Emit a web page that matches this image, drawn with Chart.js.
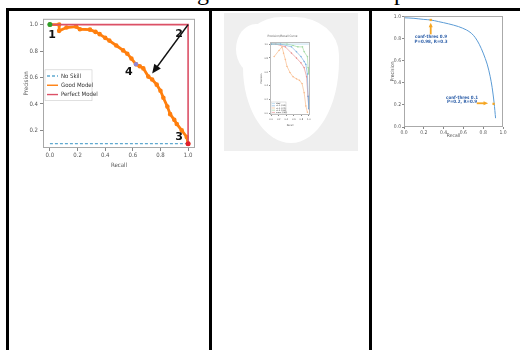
<!DOCTYPE html>
<html>
<head>
<meta charset="utf-8">
<script src="https://cdn.jsdelivr.net/npm/chart.js@4.4.1/dist/chart.umd.min.js"></script>
<style>
  body { margin: 0; width: 520px; height: 350px; position: relative; overflow: hidden; background: #fff; }
  .abs { position: absolute; }
  .bar { position: absolute; background: #000; }
  .cap { position: absolute; top: -20px; font: 24px/24px "Liberation Serif", "Times New Roman", serif; color: #000; }
  canvas { position: absolute; }
</style>
</head>
<body>
<div class="cap" style="left:197px">g</div>
<div class="cap" style="left:394px">p</div>

<div class="bar" style="left:6px; top:8px; right:0; height:3px"></div>
<div class="bar" style="left:6px; top:8px; width:3px; bottom:0"></div>
<div class="bar" style="left:209px; top:8px; width:3px; bottom:0"></div>
<div class="bar" style="left:369px; top:8px; width:3px; bottom:0"></div>

<!-- middle cell: grey photo background with a white blob -->
<div class="abs" style="left:224px; top:13px; width:134px; height:138px; background:#efefef"></div>
<div class="abs" style="left:243px; top:17px; width:96px; height:126px; background:#fff; border-radius:40% 45% 50% 50% / 25% 30% 65% 60%"></div>
<div class="abs" style="left:236px; top:24px; width:40px; height:50px; background:#fff; border-radius:60% 40% 40% 60%"></div>

<canvas id="prA" width="192" height="165" style="left:10px; top:12px"></canvas>
<canvas id="prB" width="65" height="97" style="left:255px; top:30px"></canvas>
<canvas id="prC" width="135" height="140" style="left:373px; top:12px"></canvas>

<script>
// ---- panel 1: no skill / good / perfect model ----
const skillRecall = [0, 1];
const skillPrecision = [0.1, 0.1];
const goodRecall = [0, 0.067, 0.067, 0.12, 0.19, 0.217, 0.29, 0.33, 0.36, 0.40, 0.43, 0.48, 0.53, 0.56, 0.59, 0.623, 0.65, 0.676, 0.712, 0.74, 0.773, 0.80, 0.821, 0.85, 0.87, 0.90, 0.918, 0.954, 0.99, 1.0];
const goodPrecision = [1.0, 1.0, 0.953, 0.978, 0.985, 0.965, 0.962, 0.945, 0.928, 0.90, 0.879, 0.842, 0.805, 0.78, 0.743, 0.70, 0.685, 0.669, 0.607, 0.585, 0.546, 0.50, 0.447, 0.38, 0.323, 0.28, 0.249, 0.2, 0.15, 0.1];
const perfectRecall = [0, 1, 1];
const perfectPrecision = [1, 1, 0.1];
const tickA = [0, 0.2, 0.4, 0.6, 0.8, 1.0];
const yTickA = [0.2, 0.4, 0.6, 0.8, 1.0];
const numLabels = ['1', '2', '3', '4'];
const numRecall = [0.015, 0.935, 0.935, 0.572];
const numPrecision = [0.919, 0.926, 0.148, 0.644];

// ---- panel 2: small multi-curve figure ----
const curvesB = ['ideal', 'cls 0 (0.91)', 'cls 1 (0.72)', 'cls 2 (0.94)', 'mean (0.86)'];
const colorsB = ['#9ccbea', '#6fa8dc', '#f8b27c', '#93d493', '#e48282'];
const recallB = [
  [0, 1],
  [0, 0.25, 0.54, 0.67, 0.79, 0.875, 0.92, 0.96, 0.98, 1.0],
  [0.08, 0.21, 0.29, 0.33, 0.375, 0.42, 0.5, 0.58, 0.67, 0.75, 0.82, 0.875, 0.92, 0.96],
  [0, 0.42, 0.58, 0.71, 0.83, 0.875, 0.96, 0.98, 1.0],
  [0, 0.125, 0.375, 0.54, 0.67, 0.79, 0.875, 0.94, 0.975, 1.0]
];
const precisionB = [
  [1, 1],
  [1, 1, 0.96, 0.89, 0.82, 0.75, 0.71, 0.57, 0.25, 0.07],
  [0.82, 0.91, 0.96, 0.87, 0.78, 0.68, 0.59, 0.53, 0.5, 0.48, 0.43, 0.3, 0.11, 0.02],
  [1, 1, 0.98, 0.96, 0.96, 0.89, 0.82, 0.66, 0.57],
  [1, 1, 0.96, 0.87, 0.8, 0.73, 0.66, 0.53, 0.25, 0.07]
];

// ---- panel 3: single curve with two thresholds ----
const curveRecall = [0, 0.1, 0.2, 0.27, 0.35, 0.45, 0.55, 0.63, 0.68, 0.72, 0.76, 0.8, 0.84, 0.87, 0.89, 0.91, 0.925];
const curvePrecision = [0.99, 0.985, 0.975, 0.97, 0.955, 0.935, 0.91, 0.88, 0.85, 0.81, 0.75, 0.67, 0.57, 0.46, 0.36, 0.22, 0.08];
const thresRecall = [0.27, 0.905];
const thresPrecision = [0.97, 0.21];
const thresText = [['conf-thres 0.9', 'P=0.98, R=0.3'], ['conf-thres 0.1', 'P=0.2, R=0.9']];
const thresTextRecall = [0.273, 0.586];
const thresTextPrecision = [0.797, 0.245];

const pts = (xs, ys) => xs.map((v, i) => ({x: v, y: ys[i]}));
const NARROW = '"Liberation Sans Narrow", "DejaVu Sans Condensed", sans-serif';

function drawArrow(ctx, x1, y1, x2, y2, color, w, head) {
    const a = Math.atan2(y2 - y1, x2 - x1);
    ctx.strokeStyle = color; ctx.fillStyle = color; ctx.lineWidth = w;
    ctx.beginPath();
    ctx.moveTo(x1, y1);
    ctx.lineTo(x2 - Math.cos(a) * head * 0.8, y2 - Math.sin(a) * head * 0.8);
    ctx.stroke();
    ctx.beginPath();
    ctx.moveTo(x2, y2);
    ctx.lineTo(x2 - head * Math.cos(a - 0.42), y2 - head * Math.sin(a - 0.42));
    ctx.lineTo(x2 - head * Math.cos(a + 0.42), y2 - head * Math.sin(a + 0.42));
    ctx.closePath();
    ctx.fill();
}

// frame, arrows, labels and an in-plot legend
const decor = {
    id: 'decor',
    afterDatasetsDraw(chart, args, o) {
        const {ctx, chartArea: ca, scales: {x, y}} = chart;
        ctx.save();
        ctx.strokeStyle = o.frame; ctx.lineWidth = 1;
        ctx.strokeRect(ca.left + 0.5, ca.top + 0.5, ca.right - ca.left - 1, ca.bottom - ca.top - 1);
        (o.arrows || []).forEach(r => drawArrow(ctx, x.getPixelForValue(r.x1), y.getPixelForValue(r.y1),
            x.getPixelForValue(r.x2), y.getPixelForValue(r.y2), r.color, r.width, r.head));
        (o.texts || []).forEach(t => {
            ctx.font = t.font; ctx.fillStyle = t.color;
            ctx.textAlign = 'center'; ctx.textBaseline = 'middle';
            const lines = [].concat(t.text);
            lines.forEach((s, i) => ctx.fillText(s, x.getPixelForValue(t.x), y.getPixelForValue(t.y) + (i - (lines.length - 1) / 2) * t.lh));
        });
        const L = o.legend;
        if (L) {
            let items = chart.data.datasets.filter(d => d.label);
            if (L.reverse) items = items.slice().reverse();
            const bx = ca.left + L.x, by = ca.top + L.y;
            ctx.fillStyle = 'rgba(255,255,255,0.9)'; ctx.strokeStyle = '#ccc'; ctx.lineWidth = 0.6;
            ctx.fillRect(bx, by, L.w, L.rowH * items.length + L.pad * 2);
            ctx.strokeRect(bx, by, L.w, L.rowH * items.length + L.pad * 2);
            ctx.font = L.font; ctx.textAlign = 'left'; ctx.textBaseline = 'middle';
            items.forEach((d, i) => {
                const yy = by + L.pad + L.rowH * (i + 0.5);
                ctx.strokeStyle = d.borderColor; ctx.lineWidth = L.lw;
                ctx.setLineDash(d.borderDash || []);
                ctx.beginPath(); ctx.moveTo(bx + L.s0, yy); ctx.lineTo(bx + L.s1, yy); ctx.stroke();
                ctx.setLineDash([]);
                ctx.fillStyle = '#333';
                ctx.fillText(d.label, bx + L.s1 + L.gap, yy);
            });
        }
        ctx.restore();
    }
};

function axis(o) {
    return {
        type: 'linear', min: o.min, max: o.max,
        afterFit: s => { if (o.w) s.width = o.w; if (o.h) s.height = o.h; },
        afterBuildTicks: s => { s.ticks = o.ticks.map(v => ({value: v})); },
        grid: {drawOnChartArea: false, drawTicks: true, tickLength: o.tl, color: '#888'},
        border: {display: false},
        ticks: {font: {size: o.fs, family: NARROW}, color: '#555', padding: o.tp, maxRotation: 0,
                callback: v => v.toFixed(1)},
        title: {display: true, text: o.title, color: '#555', font: {size: o.fs, family: NARROW}, padding: o.pad}
    };
}

const base = {
    responsive: false, animation: false, events: [],
    plugins: {legend: {display: false}, tooltip: {enabled: false}}
};

new Chart(document.getElementById('prA'), {
    type: 'scatter',
    data: {datasets: [
        {data: [{x: 0, y: 1}], backgroundColor: '#2ca02c', pointRadius: 2.5, borderWidth: 0},
        {data: [{x: 1, y: 0.1}], backgroundColor: '#e0202a', pointRadius: 2.5, borderWidth: 0},
        {data: [{x: goodRecall[15], y: goodPrecision[15]}], backgroundColor: '#8f86d8', pointRadius: 2.2, borderWidth: 0},
        {label: 'Perfect Model', data: pts(perfectRecall, perfectPrecision), showLine: true, borderColor: '#dc5066', borderWidth: 1.6, pointRadius: 0},
        {label: 'Good Model', data: pts(goodRecall, goodPrecision), showLine: true, borderColor: '#ff7f0e', backgroundColor: '#ff7f0e', borderWidth: 2.8, pointRadius: 0.9},
        {label: 'No Skill', data: pts(skillRecall, skillPrecision), showLine: true, borderColor: '#5fa9d0', borderDash: [3, 2], borderWidth: 1.2, pointRadius: 0}
    ]},
    options: {...base,
        layout: {padding: {top: 4, right: 7, left: 0, bottom: 0}},
        scales: {
            x: axis({min: -0.05, max: 1.05, ticks: tickA, h: 29, tl: 3, tp: 1, fs: 6, title: 'Recall', pad: {top: 0, bottom: 8}}),
            y: axis({min: 0.067, max: 1.044, ticks: yTickA, w: 33, tl: 3, tp: 2, fs: 6, title: 'Precision', pad: {top: 13, bottom: 0}})
        },
        plugins: {...base.plugins,
            decor: {
                frame: '#a8a8a8',
                arrows: [{x1: 1.0, y1: 1.0, x2: 0.74, y2: 0.63, color: '#111', width: 1.6, head: 10}],
                texts: numLabels.map((t, i) => ({x: numRecall[i], y: numPrecision[i], text: t, font: 'bold 11px "DejaVu Sans"', color: '#111', lh: 0})),
                legend: {x: 2, y: 51, w: 47, rowH: 9.3, pad: 1.5, s0: 2, s1: 13, gap: 3, lw: 1.4, font: '6px ' + NARROW, reverse: true}
            }
        }
    },
    plugins: [decor]
});

new Chart(document.getElementById('prB'), {
    type: 'scatter',
    data: {datasets: curvesB.map((name, k) => ({
        label: name, data: pts(recallB[k], precisionB[k]), showLine: true,
        borderColor: colorsB[k], backgroundColor: colorsB[k], borderWidth: 0.6, pointRadius: k === 0 ? 0 : 0.4
    }))},
    options: {...base,
        layout: {padding: {top: 0, right: 10, left: 0, bottom: 0}},
        scales: {
            x: axis({min: -0.03, max: 1.03, ticks: tickA, h: 12, tl: 1, tp: 2, fs: 2.5, title: 'Recall', pad: {top: 0, bottom: 0.5}}),
            y: axis({min: -0.02, max: 1.03, ticks: tickA, w: 15, tl: 1, tp: 1, fs: 2.5, title: 'Precision', pad: {top: 5, bottom: 0}})
        },
        plugins: {...base.plugins,
            title: {display: true, text: 'Precision/Recall Curve', color: '#666', font: {size: 3, family: NARROW, weight: 'normal'}, padding: {top: 4.5, bottom: 3.9}},
            decor: {
                frame: '#bbb',
                legend: {x: 1, y: 60, w: 15, rowH: 2.2, pad: 0.5, s0: 0.8, s1: 4, gap: 1, lw: 0.6, font: '2px ' + NARROW}
            }
        }
    },
    plugins: [decor]
});

new Chart(document.getElementById('prC'), {
    type: 'scatter',
    data: {datasets: [
        {data: pts(thresRecall, thresPrecision), backgroundColor: '#f5a623', pointStyle: 'rect', pointRadius: 1.6, borderWidth: 0},
        {data: pts(curveRecall, curvePrecision), showLine: true, borderColor: '#5b9bd5', borderWidth: 1, pointRadius: 0, tension: 0.3}
    ]},
    options: {...base,
        layout: {padding: {top: 4, right: 5, left: 0, bottom: 0}},
        scales: {
            x: axis({min: 0, max: 1, ticks: tickA, h: 25, tl: 2, tp: 1, fs: 5, title: 'Recall', pad: {top: 0, bottom: 13}}),
            y: axis({min: 0, max: 1.006, ticks: tickA, w: 31, tl: 2, tp: 1, fs: 5, title: 'Precision', pad: {top: 17, bottom: 0}})
        },
        plugins: {...base.plugins,
            decor: {
                frame: '#aaa',
                arrows: [
                    {x1: 0.27, y1: 0.84, x2: 0.27, y2: 0.945, color: '#f5a623', width: 1.8, head: 5},
                    {x1: 0.735, y1: 0.215, x2: 0.85, y2: 0.215, color: '#f5a623', width: 1.8, head: 5}
                ],
                texts: thresText.map((t, i) => ({x: thresTextRecall[i], y: thresTextPrecision[i], text: t, font: 'bold 4.5px ' + NARROW, color: '#2c5ea8', lh: 4.6}))
            }
        }
    },
    plugins: [decor]
});
</script>
</body>
</html>
